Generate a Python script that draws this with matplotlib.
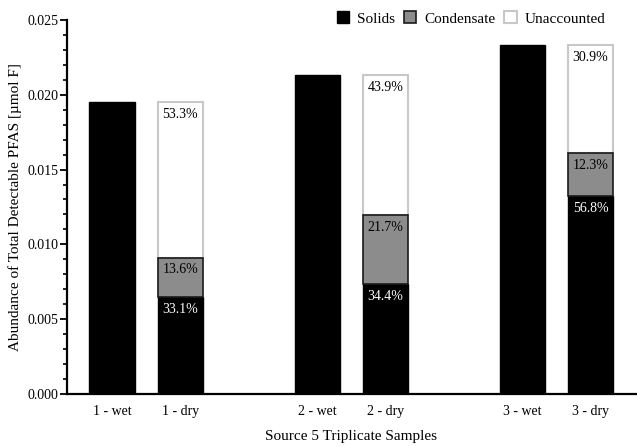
import numpy as np
import matplotlib
matplotlib.use('Agg')
import matplotlib.pyplot as plt
from matplotlib.ticker import MultipleLocator, FormatStrFormatter

plt.rcParams['font.family'] = ['Liberation Serif', 'DejaVu Serif']

# data
labels = ['1 - wet', '1 - dry', '2 - wet', '2 - dry', '3 - wet', '3 - dry']
wet_solids = [0.0195, 0.0213, 0.0233]
dry_solids = [0.00645, 0.00733, 0.01323]
dry_cond = [0.00265, 0.00462, 0.00287]
dry_unacc = [0.0104, 0.00935, 0.0072]
pct_solids = ['33.1%', '34.4%', '56.8%']
pct_cond = ['13.6%', '21.7%', '12.3%']
pct_unacc = ['53.3%', '43.9%', '30.9%']

pos = [0, 1, 3, 4, 6, 7]
wet_x = np.array(pos[0::2])
dry_x = np.array(pos[1::2])
w = 0.66

fig = plt.figure(figsize=(6.37, 4.46), dpi=100)
ax = fig.add_axes([0.105, 0.117, 0.893, 0.838])

ax.bar(wet_x, wet_solids, w, color='black', edgecolor='black', linewidth=1, label='Solids')
ax.bar(dry_x, dry_solids, w, color='black', edgecolor='black', linewidth=1)
bot3 = np.array(dry_solids) + np.array(dry_cond)
ax.bar(dry_x, dry_unacc, w, bottom=bot3, color='white', edgecolor='#c8c8c8',
       linewidth=1.5, label='Unaccounted', zorder=2)
ax.bar(dry_x, dry_cond, w, bottom=dry_solids, color='#8c8c8c', edgecolor='#1a1a1a',
       linewidth=1.2, label='Condensate', zorder=3)

for i in range(3):
    x = dry_x[i]
    ax.annotate(pct_solids[i], (x, dry_solids[i]), xytext=(0, -4), textcoords='offset points',
                ha='center', va='top', color='white', fontsize=10, zorder=5)
    ax.annotate(pct_cond[i], (x, bot3[i]), xytext=(0, -4), textcoords='offset points',
                ha='center', va='top', color='black', fontsize=10, zorder=5)
    ax.annotate(pct_unacc[i], (x, bot3[i] + dry_unacc[i]), xytext=(0, -4), textcoords='offset points',
                ha='center', va='top', color='black', fontsize=10, zorder=5)

ax.set_xlim(-0.66, 7.66)
ax.set_ylim(0, 0.025)
ax.set_xticks(pos)
ax.set_xticklabels(labels, fontsize=10)
ax.tick_params(axis='x', length=0, pad=8)
ax.yaxis.set_major_locator(MultipleLocator(0.005))
ax.yaxis.set_minor_locator(MultipleLocator(0.001))
ax.yaxis.set_major_formatter(FormatStrFormatter('%.3f'))
ax.tick_params(axis='y', which='major', length=5, width=1.3, labelsize=10, pad=1)
ax.tick_params(axis='y', which='minor', length=3, width=1.2)
for s in ['top', 'right']:
    ax.spines[s].set_visible(False)
for s in ['left', 'bottom']:
    ax.spines[s].set_linewidth(1.6)

ax.set_ylabel('Abundance of Total Detectable PFAS [µmol F]', fontsize=11, labelpad=4)
ax.set_xlabel('Source 5 Triplicate Samples', fontsize=11, labelpad=9)

h, l = ax.get_legend_handles_labels()
order = [l.index('Solids'), l.index('Condensate'), l.index('Unaccounted')]
ax.legend([h[k] for k in order], [l[k] for k in order], loc='upper right', ncol=3,
          frameon=False, fontsize=11, handlelength=0.8, handleheight=0.8,
          handletextpad=0.5, columnspacing=0.6, bbox_to_anchor=(0.97, 1.06))

plt.savefig('out.png', dpi=100)
